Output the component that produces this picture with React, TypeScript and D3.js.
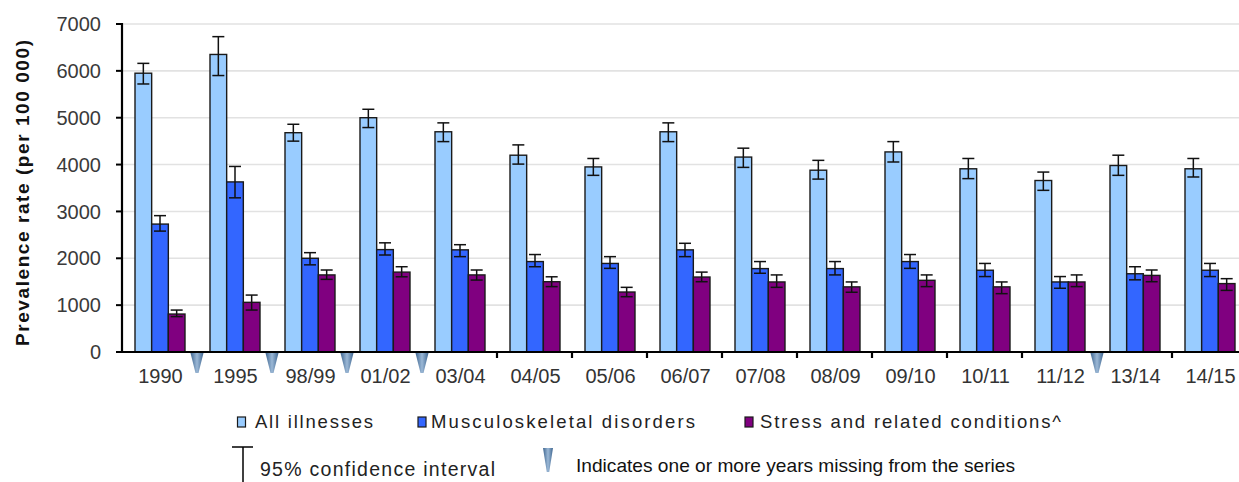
import { scaleBand, scaleLinear } from 'd3';

const categories = ['1990', '1995', '98/99', '01/02', '03/04', '04/05', '05/06', '06/07', '07/08', '08/09', '09/10', '10/11', '11/12', '13/14', '14/15'];

const allIllnesses = [5950, 6350, 4680, 5000, 4700, 4200, 3950, 4700, 4160, 3880, 4270, 3910, 3660, 3980, 3910];
const allLow = [5720, 5900, 4500, 4790, 4490, 4010, 3770, 4490, 3940, 3690, 4055, 3700, 3450, 3770, 3735];
const allHigh = [6160, 6730, 4860, 5180, 4890, 4420, 4130, 4890, 4350, 4090, 4490, 4130, 3840, 4200, 4130];

const msd = [2730, 3630, 2000, 2185, 2180, 1930, 1890, 2180, 1780, 1780, 1930, 1745, 1495, 1670, 1745];
const msdLow = [2580, 3290, 1860, 2070, 2035, 1820, 1785, 2035, 1680, 1645, 1785, 1610, 1360, 1540, 1610];
const msdHigh = [2910, 3960, 2120, 2330, 2290, 2080, 2035, 2320, 1930, 1930, 2080, 1890, 1610, 1820, 1890];

const stress = [810, 1060, 1645, 1705, 1645, 1500, 1280, 1600, 1495, 1390, 1530, 1390, 1495, 1635, 1460];
const stressLow = [755, 895, 1550, 1605, 1535, 1395, 1180, 1500, 1380, 1275, 1395, 1245, 1395, 1500, 1315];
const stressHigh = [895, 1215, 1750, 1820, 1750, 1605, 1380, 1705, 1645, 1495, 1645, 1495, 1645, 1750, 1565];

const yTicks = [0, 1000, 2000, 3000, 4000, 5000, 6000, 7000];

// series missing years after these categories
const gapAfter = ['1990', '1995', '98/99', '01/02', '11/12'];

const series = [
  { key: 'all', label: 'All illnesses', color: '#99CCFF', values: allIllnesses, low: allLow, high: allHigh },
  { key: 'msd', label: 'Musculoskeletal disorders', color: '#3366FF', values: msd, low: msdLow, high: msdHigh },
  { key: 'stress', label: 'Stress and related conditions^', color: '#800080', values: stress, low: stressLow, high: stressHigh },
];

const W = 1239;
const H = 482;
const font = '"Liberation Sans", Arial, sans-serif';

export default function App() {
  const x0 = scaleBand().domain(categories).range([122, 1247]).padding(0);
  const x1 = scaleBand().domain(series.map(s => s.key)).range([13, 63]).padding(0);
  const y = scaleLinear().domain([0, 7000]).range([352, 24]);
  const bw = x1.bandwidth();

  // legend positions
  const legend1 = [
    { sq: 237.5, tx: 255, len: 118 },
    { sq: 418, tx: 431, len: 264 },
    { sq: 745, tx: 760, len: 301 },
  ];

  return (
    <svg width={W} height={H} style={{ position: 'absolute', left: 0, top: 0, background: '#fff' }} fontFamily={font}>
      <defs>
        <linearGradient id="tri" x1="0" x2="1" y1="0" y2="0">
          <stop offset="0" stopColor="#3f6690" />
          <stop offset="0.5" stopColor="#9bb8d6" />
          <stop offset="1" stopColor="#3f6690" />
        </linearGradient>
      </defs>

      {/* gridlines */}
      {yTicks.filter(t => t > 0).map(t => (
        <line key={t} x1={122} x2={W} y1={y(t)} y2={y(t)} stroke="#e2e2e2" strokeWidth={1.6} />
      ))}

      {/* bars */}
      {categories.map((c, i) => (
        <g key={c} transform={`translate(${x0(c)},0)`}>
          {series.map(s => (
            <rect
              key={s.key}
              x={x1(s.key)}
              y={y(s.values[i])}
              width={bw}
              height={y(0) - y(s.values[i])}
              fill={s.color}
              stroke="#1a1a1a"
              strokeWidth={1.4}
            />
          ))}
          {series.map(s => {
            const cx = x1(s.key) + bw / 2;
            return (
              <g key={s.key} stroke="#111" strokeWidth={1.5}>
                <line x1={cx} x2={cx} y1={y(s.high[i])} y2={y(s.low[i])} />
                <line x1={cx - 6} x2={cx + 6} y1={y(s.high[i])} y2={y(s.high[i])} />
                <line x1={cx - 6} x2={cx + 6} y1={y(s.low[i])} y2={y(s.low[i])} />
              </g>
            );
          })}
        </g>
      ))}

      {/* y axis */}
      <line x1={122} x2={122} y1={y(7000) - 1} y2={y(0)} stroke="#000" strokeWidth={2.2} />
      {yTicks.map(t => (
        <g key={t}>
          <line x1={116} x2={122} y1={y(t)} y2={y(t)} stroke="#000" strokeWidth={2} />
          <text x={101} y={y(t)} dy="0.36em" textAnchor="end" fontSize={20} fill="#3a3a3a">
            {t}
          </text>
        </g>
      ))}

      {/* x axis */}
      <line x1={121} x2={W} y1={y(0)} y2={y(0)} stroke="#000" strokeWidth={2.2} />
      {categories.slice(1).map((c, i) => {
        if (gapAfter.includes(categories[i])) return null;
        return <line key={c} x1={x0(c)} x2={x0(c)} y1={y(0)} y2={y(0) + 6} stroke="#000" strokeWidth={2.2} />;
      })}
      {categories.map(c => (
        <text key={c} x={x0(c) + x0.bandwidth() / 2 + 1} y={383} textAnchor="middle" fontSize={20} fill="#333">
          {c}
        </text>
      ))}

      {/* missing-year markers */}
      {gapAfter.map(c => (
        <path
          key={c}
          transform={`translate(${x0(c) + x0.bandwidth()},${y(0) + 1})`}
          d="M-6.5,0 L6.5,0 L1.5,20 L-1.5,20 Z"
          fill="url(#tri)"
        />
      ))}

      {/* y title */}
      <text
        transform="translate(29,193) rotate(-90)"
        textAnchor="middle"
        fontSize={19}
        fontWeight="bold"
        fill="#111"
        textLength={306}
        lengthAdjust="spacing"
      >
        Prevalence rate (per 100 000)
      </text>

      {/* legend row 1 */}
      {series.map((s, i) => (
        <g key={s.key}>
          <rect x={legend1[i].sq} y={417} width={8} height={10} fill={s.color} stroke="#1a1a1a" strokeWidth={1.2} />
          <text x={legend1[i].tx} y={428} fontSize={18.5} fill="#222" textLength={legend1[i].len} lengthAdjust="spacing">
            {s.label}
          </text>
        </g>
      ))}

      {/* legend row 2 */}
      <line x1={232} x2={253} y1={447} y2={447} stroke="#000" strokeWidth={1.5} />
      <line x1={243} x2={243} y1={447} y2={H} stroke="#000" strokeWidth={1.5} />
      <text x={260} y={476} fontSize={19.5} fill="#222" textLength={235} lengthAdjust="spacing">
        95% confidence interval
      </text>
      <path transform="translate(548,448)" d="M-5,0 L5,0 L1.2,24 L-1.2,24 Z" fill="url(#tri)" />
      <text
        x={576}
        y={472}
        fontSize={19}
        fill="#111"
        fontFamily={'"Liberation Sans Narrow", "Arial Narrow", ' + font}
        textLength={439}
        lengthAdjust="spacingAndGlyphs"
      >
        Indicates one or more years missing from the series
      </text>
    </svg>
  );
}
